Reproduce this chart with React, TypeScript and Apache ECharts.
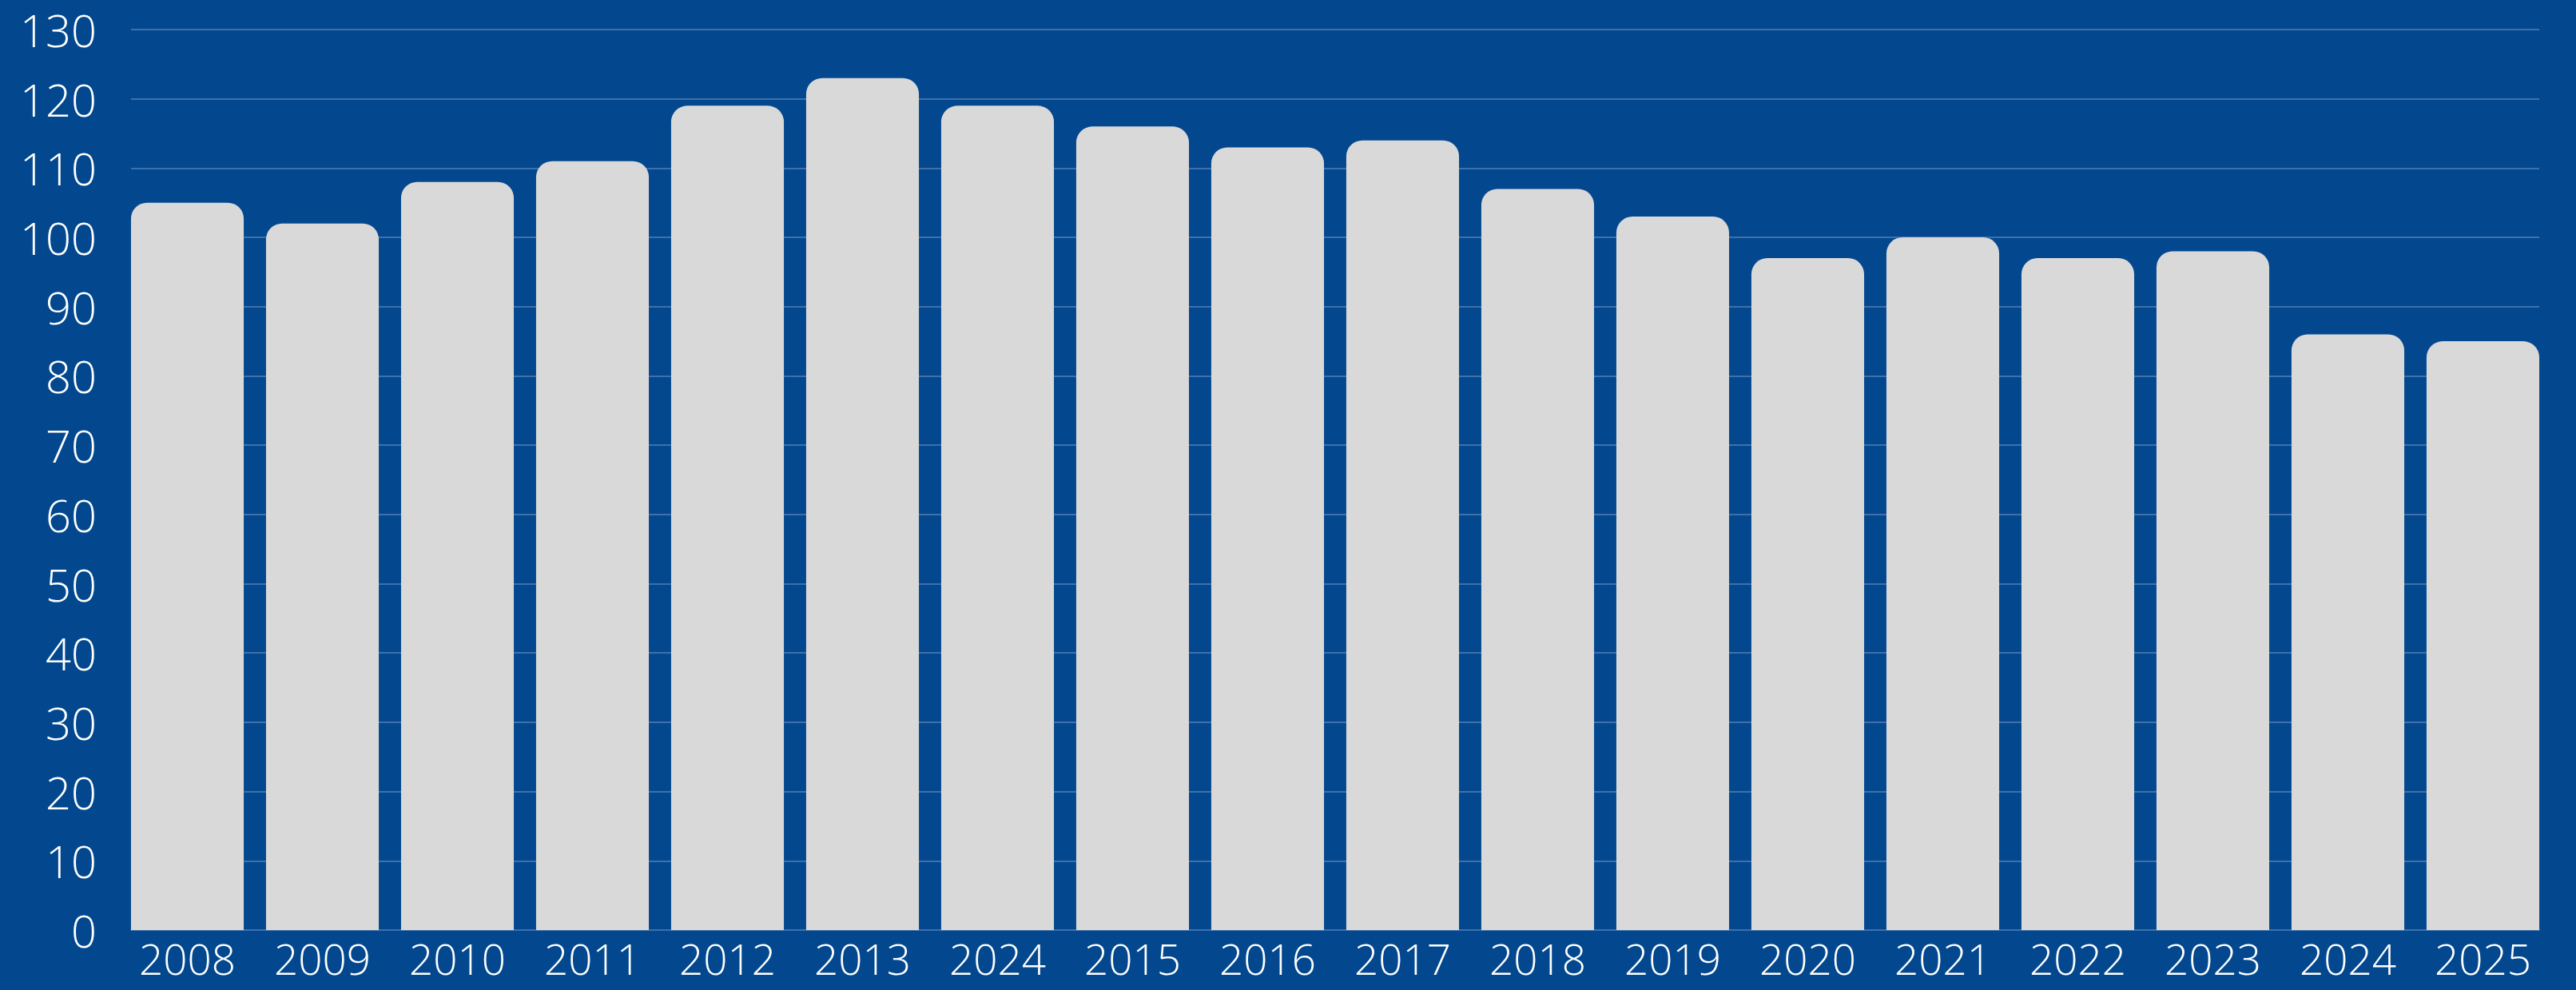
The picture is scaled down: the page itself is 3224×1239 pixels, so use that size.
import React, { useEffect, useRef } from "react";
import * as echarts from "echarts";

const categories = [
  "2008", "2009", "2010", "2011", "2012", "2013", "2024", "2015", "2016",
  "2017", "2018", "2019", "2020", "2021", "2022", "2023", "2024", "2025",
];
const values = [105, 102, 108, 111, 119, 123, 119, 116, 113, 114, 107, 103, 97, 100, 97, 98, 86, 85];
const yMin = 0;
const yMax = 130;
const yInterval = 10;

export default function App() {
  const ref = useRef<HTMLDivElement>(null);
  useEffect(() => {
    document.body.style.margin = "0";
    document.body.style.background = "#03488E";
    const chart = echarts.init(ref.current!, null, { renderer: "svg" });
    const font = "'Open Sans', sans-serif";
    const gridColor = "#3F70AA";
    chart.setOption({
      animation: false,
      backgroundColor: "#03488E",
      grid: [
        // grid for the bars: widened by half a gap so bars meet the plot edges
        { left: 150, right: 32, top: 37, bottom: 75, containLabel: false },
        // grid for gridlines and y labels: exact plot extents
        { left: 164, right: 46, top: 37, bottom: 75, containLabel: false },
      ],
      xAxis: [
        {
          type: "category",
          gridIndex: 0,
          data: categories,
          axisTick: { show: false },
          axisLine: { show: false },
          axisLabel: {
            color: "#FFFFFF",
            fontFamily: font,
            fontWeight: 300,
            fontSize: 53,
            lineHeight: 53,
            margin: 9,
            interval: 0,
          },
          z: 3,
        },
        {
          type: "category",
          gridIndex: 1,
          data: categories,
          axisTick: { show: false },
          axisLabel: { show: false },
          axisLine: { show: true, lineStyle: { color: gridColor, width: 2 } },
        },
      ],
      yAxis: [
        {
          type: "value",
          gridIndex: 0,
          min: yMin,
          max: yMax,
          interval: yInterval,
          axisLine: { show: false },
          axisTick: { show: false },
          splitLine: { show: false },
          axisLabel: { show: false },
        },
        {
          type: "value",
          gridIndex: 1,
          min: yMin,
          max: yMax,
          interval: yInterval,
          axisLine: { show: false },
          axisTick: { show: false },
          splitLine: { lineStyle: { color: gridColor, width: 2 } },
          axisLabel: {
            color: "#FFFFFF",
            fontFamily: font,
            fontWeight: 300,
            fontSize: 56,
            margin: 43,
          },
        },
      ],
      series: [
        {
          type: "bar",
          xAxisIndex: 0,
          yAxisIndex: 0,
          data: values,
          barCategoryGap: "16.5%",
          z: 5,
          itemStyle: { color: "#D9D9D9", borderRadius: [20, 20, 0, 0] },
        },
      ],
    });
    return () => chart.dispose();
  }, []);
  return <div ref={ref} style={{ width: 3224, height: 1239 }} />;
}
